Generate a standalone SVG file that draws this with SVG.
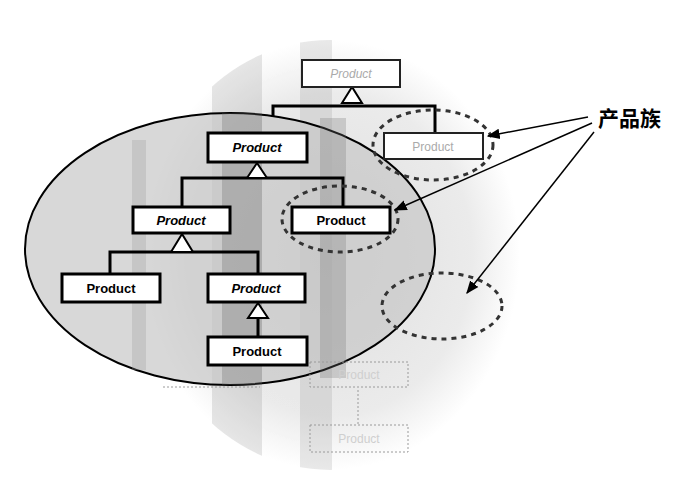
<svg xmlns="http://www.w3.org/2000/svg" width="694" height="504" viewBox="0 0 694 504">
<defs>
<radialGradient id="halo" cx="0.5" cy="0.5" r="0.5">
<stop offset="0" stop-color="#dedede"/>
<stop offset="0.75" stop-color="#ebebeb"/>
<stop offset="1" stop-color="#ffffff"/>
</radialGradient>
<clipPath id="shade">
<ellipse cx="330" cy="255" rx="190" ry="215"/>
</clipPath>
<marker id="arr" viewBox="0 0 10 10" refX="9" refY="5" markerWidth="13" markerHeight="13" markerUnits="userSpaceOnUse" orient="auto">
<path d="M0,1 L10,5 L0,9 z" fill="#000"/>
</marker>
<style>
.box{fill:#fff;stroke:#000;stroke-width:3}
.ghost{fill:#fff;stroke:#222;stroke-width:2}
.faint{fill:none;stroke:#9a9a9a;stroke-width:1;stroke-dasharray:2 2}
.lbl{font-family:"Liberation Sans",Arial,sans-serif;font-size:13px;font-weight:bold;fill:#000;text-anchor:middle}
.it{font-style:italic}
.glbl{font-family:"Liberation Sans",Arial,sans-serif;font-size:12px;fill:#aaa;text-anchor:middle}
.line{fill:none;stroke:#000;stroke-width:3}
.tri{fill:#fff;stroke:#000;stroke-width:2}
.dash{fill:none;stroke:#333;stroke-width:3;stroke-dasharray:5 5}
.arrow{fill:none;stroke:#000;stroke-width:1.5}
</style>
</defs>
<rect width="694" height="504" fill="#fff"/>
<g id="background">
<ellipse cx="330" cy="255" rx="190" ry="215" fill="url(#halo)"/>
<g clip-path="url(#shade)" opacity="0.18">
<rect x="212" y="30" width="50" height="440" fill="#777"/>
<rect x="300" y="30" width="32" height="440" fill="#888"/>
</g>
</g>
<g id="family-ellipse">
<ellipse cx="230" cy="249" rx="205" ry="136" fill="#c8c8c8" fill-opacity="0.7" stroke="#000" stroke-width="2"/>
<g opacity="0.28">
<rect x="222" y="113" width="40" height="272" fill="#666"/>
<rect x="320" y="118" width="26" height="260" fill="#777"/>
<rect x="132" y="140" width="14" height="230" fill="#999"/>
</g>
</g>
<g id="connectors">
<path class="line" d="M273,117 L273,106 L435,106 L435,133" stroke-width="2.5"/>
<polygon class="tri" points="352,87 342,103 362,103"/>
<path class="line" d="M182,207 L182,178 L343,178 L343,207"/>
<polygon class="tri" points="257,163 247,178 267,178"/>
<path class="line" d="M110,274 L110,252 L258,252 L258,274"/>
<polygon class="tri" points="182,234 171,252 193,252"/>
<path class="line" d="M258,318 L258,337"/>
<polygon class="tri" points="258,303 248,318 268,318"/>
<path class="faint" d="M358,390 L358,425"/>
<path class="faint" d="M163,387 L260,387"/>
</g>
<g id="ghost-top">
<rect class="ghost" x="302" y="60" width="98" height="27"/>
<text class="glbl it" x="351" y="78">Product</text>
</g>
<g id="ghost-right">
<rect class="ghost" x="384" y="133" width="99" height="26"/>
<text class="glbl" x="433" y="151">Product</text>
</g>
<g id="ghost-bottom1">
<rect class="faint" x="310" y="362" width="98" height="25"/>
<text class="glbl" style="fill:#cfcfcf" x="359" y="379">Product</text>
</g>
<g id="ghost-bottom2">
<rect class="faint" x="310" y="425" width="98" height="27"/>
<text class="glbl" style="fill:#cfcfcf" x="359" y="443">Product</text>
</g>
<g id="p-top">
<rect class="box" x="208" y="133" width="99" height="29"/>
<text class="lbl it" x="257" y="152">Product</text>
</g>
<g id="p-mid-left">
<rect class="box" x="133" y="207" width="97" height="26"/>
<text class="lbl it" x="181" y="225">Product</text>
</g>
<g id="p-mid-right">
<rect class="box" x="292" y="207" width="98" height="26"/>
<text class="lbl" x="341" y="225">Product</text>
</g>
<g id="p-low-left">
<rect class="box" x="62" y="274" width="98" height="28"/>
<text class="lbl" x="111" y="293">Product</text>
</g>
<g id="p-low-right">
<rect class="box" x="208" y="274" width="97" height="28"/>
<text class="lbl it" x="256" y="293">Product</text>
</g>
<g id="p-bottom">
<rect class="box" x="208" y="337" width="99" height="28"/>
<text class="lbl" x="257" y="356">Product</text>
</g>
<g id="families">
<ellipse class="dash" cx="433" cy="145" rx="60" ry="35"/>
<ellipse class="dash" cx="340" cy="219" rx="58" ry="33"/>
<ellipse class="dash" cx="442" cy="306" rx="60" ry="33" stroke="#555" stroke-width="2.5"/>
</g>
<g id="label">
<text x="598" y="126" font-family="'Noto Sans CJK SC','Noto Sans',sans-serif" font-size="21" font-weight="bold" fill="#000">产品族</text>
</g>
<g id="arrows">
<line class="arrow" x1="588" y1="117" x2="488" y2="136" marker-end="url(#arr)"/>
<line class="arrow" x1="592" y1="123" x2="395" y2="210" marker-end="url(#arr)"/>
<line class="arrow" x1="594" y1="132" x2="467" y2="293" marker-end="url(#arr)"/>
</g>
</svg>
